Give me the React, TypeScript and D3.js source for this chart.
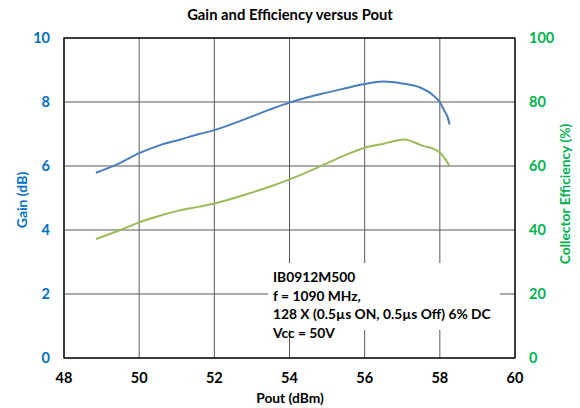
import React from 'react';
import * as d3 from 'd3';

// Pout (dBm) sample points
const gainPout = [48.85, 49.5, 50.0, 50.5, 51.1, 51.6, 52.0, 52.76, 53.47, 54.0, 54.8, 55.42, 56.0, 56.48, 57.0, 57.46, 57.81, 58.0, 58.13, 58.2, 58.26];
const gainDb = [5.79, 6.1, 6.4, 6.63, 6.83, 7.0, 7.12, 7.44, 7.76, 7.98, 8.24, 8.41, 8.56, 8.64, 8.58, 8.46, 8.22, 7.99, 7.7, 7.55, 7.3];

const effPout = [48.85, 49.5, 50.0, 50.5, 51.0, 51.6, 52.0, 52.94, 53.47, 54.0, 54.8, 55.42, 56.0, 56.48, 57.06, 57.55, 57.81, 58.0, 58.13, 58.26];
const effPct = [37.2, 40.0, 42.4, 44.3, 45.9, 47.3, 48.3, 51.5, 53.5, 55.8, 59.8, 63.1, 65.7, 66.9, 68.3, 66.3, 65.5, 64.2, 62.4, 60.0];

const xTicks = [48, 50, 52, 54, 56, 58, 60];
const gainTicks = [0, 2, 4, 6, 8, 10];
const effTicks = [0, 20, 40, 60, 80, 100];

const noteLines = ['IB0912M500', 'f = 1090 MHz,', '128 X (0.5\u00b5s ON, 0.5\u00b5s Off) 6% DC', 'Vcc = 50V'];

const W = 580;
const H = 408;
const margin = { top: 38, right: 65, bottom: 50, left: 64 };
const font = 'Lato, "Open Sans", sans-serif';

export default function App() {
  const x = d3.scaleLinear().domain([48, 60]).range([margin.left, W - margin.right]);
  const yGain = d3.scaleLinear().domain([0, 10]).range([H - margin.bottom, margin.top]);
  const yEff = d3.scaleLinear().domain([0, 100]).range([H - margin.bottom, margin.top]);

  const gainLine = d3.line<number>()
    .curve(d3.curveMonotoneX)
    .x((_, i) => x(gainPout[i]))
    .y(d => yGain(d));
  const effLine = d3.line<number>()
    .curve(d3.curveMonotoneX)
    .x((_, i) => x(effPout[i]))
    .y(d => yEff(d));

  const x0 = margin.left;
  const x1 = W - margin.right;
  const y0 = H - margin.bottom;
  const y1 = margin.top;

  return (
    <svg width={W} height={H} style={{ position: 'absolute', left: 0, top: 0, background: '#fff' }} fontFamily={font}>
      <text x={290} y={20} textAnchor="middle" fontSize={14.8} fontWeight="bold" fill="#000">
        Gain and Efficiency versus Pout
      </text>

      {/* gridlines */}
      {gainTicks.map(t => (
        <line key={'h' + t} x1={x0} x2={x1} y1={yGain(t)} y2={yGain(t)} stroke="#595959" strokeWidth={1} />
      ))}
      {xTicks.map(t => (
        <line key={'v' + t} x1={x(t)} x2={x(t)} y1={y1} y2={y0} stroke="#595959" strokeWidth={1} />
      ))}

      {/* annotation box */}
      <rect x={268} y={263} width={232} height={67} fill="#fff" />
      {noteLines.map((s, i) => (
        <text key={s} x={273} y={282 + i * 18.5} fontSize={13.8} fontWeight="bold" fill="#000">
          {s}
        </text>
      ))}

      <path d={effLine(effPct) || ''} fill="none" stroke="#9BBB59" strokeWidth={2} />
      <path d={gainLine(gainDb) || ''} fill="none" stroke="#4A7EBB" strokeWidth={2} />

      <rect x={x0} y={y1} width={x1 - x0} height={y0 - y1} fill="none" stroke="#000" strokeWidth={1.3} />

      {/* axis labels */}
      {gainTicks.map(t => (
        <text key={'g' + t} x={50} y={yGain(t) + 5} textAnchor="end" fontSize={14.5} fontWeight="bold" fill="#0070C0">
          {t}
        </text>
      ))}
      {effTicks.map(t => (
        <text key={'e' + t} x={529} y={yEff(t) + 5} textAnchor="start" fontSize={14.5} fontWeight="bold" fill="#00B050">
          {t}
        </text>
      ))}
      {xTicks.map(t => (
        <text key={'x' + t} x={x(t)} y={383} textAnchor="middle" fontSize={14.5} fontWeight="bold" fill="#000">
          {t}
        </text>
      ))}

      <text x={290} y={403} textAnchor="middle" fontSize={13.8} fontWeight="bold" fill="#000">Pout (dBm)</text>
      <text transform="translate(27,200) rotate(-90)" textAnchor="middle" fontSize={14} fontWeight="bold" fill="#0070C0">
        Gain (dB)
      </text>
      <text transform="translate(570,194) rotate(-90)" textAnchor="middle" fontSize={13.8} fontWeight="bold" fill="#00B050">
        Collector Efficiency (%)
      </text>
    </svg>
  );
}
